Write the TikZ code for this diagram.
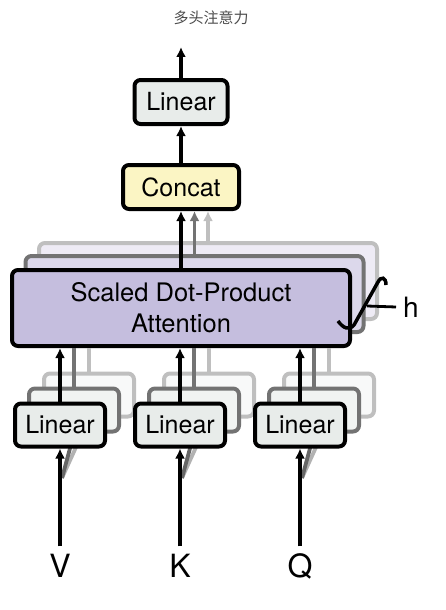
\documentclass[tikz,border=0pt]{standalone}
\usepackage{fontspec}
\setmainfont{TeX Gyre Heros}
\newfontfamily\cjk{Noto Sans CJK SC}
\usetikzlibrary{arrows.meta}
\definecolor{linfill}{RGB}{232,236,234}
\definecolor{catfill}{RGB}{251,245,196}
\definecolor{attfill}{RGB}{197,190,222}

\begin{document}
\begin{tikzpicture}[x=1pt, y=-1pt,
    box/.style={draw, rounded corners=6pt, line width=4pt, align=center, inner sep=0pt},
    linear/.style={box, fill=linfill, minimum width=90pt, minimum height=43pt, font=\fontsize{25}{30}\selectfont},
    concatbox/.style={box, fill=catfill, minimum width=116pt, minimum height=44pt, font=\fontsize{25}{30}\selectfont},
    attn/.style={box, fill=attfill, minimum width=338pt, minimum height=76pt, font=\fontsize{25.5}{31}\selectfont},
    mid/.style={draw=black!55},
    far/.style={draw=black!25},
    input/.style={font=\fontsize{32}{36}\selectfont, text height=23pt, text depth=0pt, inner sep=8pt},
    arrow/.style={-{Latex[length=10pt, width=10pt]}, line width=3.8pt},
    ghost/.style={line width=3.8pt}
]
    \useasboundingbox (0,0) rectangle (445,610);

    \node[font=\cjk\fontsize{15}{18}\selectfont, text=black!70] (title) at (211,18) {多头注意力};

    \node[linear, minimum width=93pt, minimum height=44pt] (out) at (181,102) {Linear};
    \node[concatbox] (concat) at (181,187) {Concat};
    \coordinate (top) at (181,47);
    \draw[arrow] (out) -- (top);
    \draw[arrow] (concat) -- (out);

    \node[attn, far, fill=attfill!30] (attnC) at (208,281) {};
    \node[attn, mid, fill=attfill!60] (attnB) at (194.5,294) {};
    \draw[arrow, black!25] (attnC.north) -- (attnC.north |- concat.south);
    \draw[arrow, black!55] (attnB.north) -- (attnB.north |- concat.south);
    \node[attn] (attn) at (181,308) {Scaled Dot-Product\\Attention};
    \draw[arrow] (attn) -- (concat);

    \draw[line width=3.5pt] (338,321) .. controls (343,328) and (349,331) .. (354,325) -- (378,282) .. controls (381,276) and (386,277) .. (386,285);
    \coordinate (hb) at (367,306);
    \node[font=\fontsize{28}{32}\selectfont, text height=20pt, text depth=0pt, inner sep=7pt] (hlab) at (411,307) {h};
    \draw[line width=2.8pt] (hb) -- (hlab.west);

    \node[linear, far, fill=linfill!30] (linVc) at (89,395) {};
    \node[linear, far, fill=linfill!30] (linKc) at (209,395) {};
    \node[linear, far, fill=linfill!30] (linQc) at (329,395) {};
    \node[linear, mid, fill=linfill!60] (linVb) at (74,410) {};
    \node[linear, mid, fill=linfill!60] (linKb) at (194,410) {};
    \node[linear, mid, fill=linfill!60] (linQb) at (314,410) {};
    \draw[ghost, black!25] (linVc.north) -- (linVc.north |- attn.south);
    \draw[ghost, black!25] (linKc.north) -- (linKc.north |- attn.south);
    \draw[ghost, black!25] (linQc.north) -- (linQc.north |- attn.south);
    \draw[ghost, black!55] (linVb.north) -- (linVb.north |- attn.south);
    \draw[ghost, black!55] (linKb.north) -- (linKb.north |- attn.south);
    \draw[ghost, black!55] (linQb.north) -- (linQb.north |- attn.south);

    \node[input] (V) at (60,566) {V};
    \node[input] (K) at (180,566) {K};
    \node[input] (Q) at (300,566) {Q};
    \coordinate (vs) at (62,478);
    \coordinate (ks) at (182,478);
    \coordinate (qs) at (302,478);
    \draw[ghost, black!30] (vs) -- (linVc.south);
    \draw[ghost, black!30] (ks) -- (linKc.south);
    \draw[ghost, black!30] (qs) -- (linQc.south);
    \draw[ghost, black!60] (vs) -- (linVb.south);
    \draw[ghost, black!60] (ks) -- (linKb.south);
    \draw[ghost, black!60] (qs) -- (linQb.south);

    \node[linear] (linV) at (60,425) {Linear};
    \node[linear] (linK) at (180,425) {Linear};
    \node[linear] (linQ) at (300,425) {Linear};

    \draw[arrow] (linV) -- (linV |- attn.south);
    \draw[arrow] (linK) -- (linK |- attn.south);
    \draw[arrow] (linQ) -- (linQ |- attn.south);
    \draw[arrow] (V) -- (linV);
    \draw[arrow] (K) -- (linK);
    \draw[arrow] (Q) -- (linQ);
\end{tikzpicture}
\end{document}
